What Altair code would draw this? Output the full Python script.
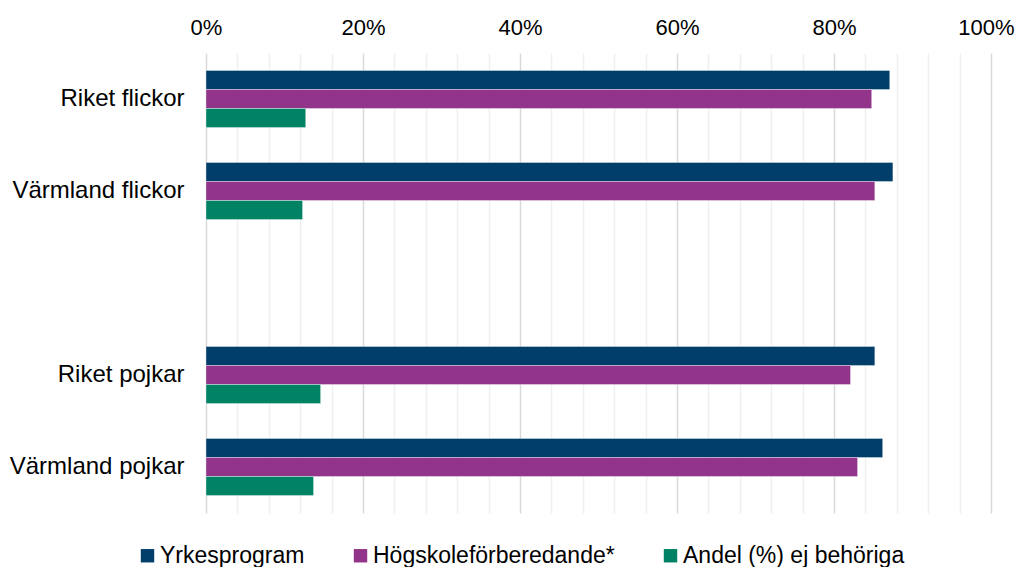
import altair as alt
import pandas as pd

categories = ["Riket flickor", "Värmland flickor", "Riket pojkar", "Värmland pojkar"]
axis_order = ["Riket flickor", "Värmland flickor", " ", "Riket pojkar", "Värmland pojkar"]
series = ["Yrkesprogram", "Högskoleförberedande*", "Andel (%) ej behöriga"]
yrkes = [87.1, 87.5, 85.2, 86.2]
hogskole = [84.8, 85.2, 82.1, 83.0]
andel = [12.7, 12.3, 14.6, 13.7]
colors = ["#013E6A", "#92348A", "#008364"]
x_ticks = list(range(0, 101, 4))

rows = []
for i, c in enumerate(categories):
    for s, vals in zip(series, [yrkes, hogskole, andel]):
        rows.append({"kategori": c, "serie": s, "varde": vals[i]})
df = pd.DataFrame(rows)

FONT = "Liberation Sans"

chart = alt.Chart(df).mark_bar(stroke="white", strokeWidth=0.6, strokeOpacity=0.6).encode(
    x=alt.X(
        "varde:Q",
        scale=alt.Scale(domain=[0, 100], nice=False),
        axis=alt.Axis(
            orient="top",
            title=None,
            values=x_ticks,
            labelExpr="datum.value % 20 == 0 ? datum.value + '%' : ''",
            domain=False,
            ticks=False,
            tickSize=0,
            labelPadding=14,
            labelFontSize=22,
            labelFont=FONT,
            labelColor="#000000",
            labelFlush=False,
            labelOverlap=False,
            labelOffset={"condition": {"test": "datum.value == 100", "value": -5}, "value": 0},
            gridColor={"condition": {"test": "datum.value % 20 == 0", "value": "#d9d9d9"}, "value": "#f0f0f0"},
            gridWidth=1.5,
        ),
    ),
    y=alt.Y(
        "kategori:N",
        scale=alt.Scale(domain=axis_order, paddingInner=0.38, paddingOuter=0.19),
        axis=alt.Axis(
            title=None,
            domain=False,
            ticks=False,
            tickSize=0,
            labelPadding=22,
            labelFontSize=24,
            labelFont=FONT,
            labelColor="#000000",
            grid=False,
        ),
    ),
    yOffset=alt.YOffset("serie:N", sort=series, scale=alt.Scale(domain=series, paddingInner=0, paddingOuter=0)),
    color=alt.Color(
        "serie:N",
        sort=series,
        scale=alt.Scale(domain=series, range=colors),
        legend=alt.Legend(
            title=None,
            orient="none",
            direction="horizontal",
            columns=3,
            legendX=-70,
            legendY=491,
            symbolType="square",
            symbolSize=180,
            symbolStrokeWidth=0,
            labelOffset=1,
            labelLimit=0,
            columnPadding=44,
            labelFontSize=23,
            labelFont=FONT,
            labelColor="#000000",
        ),
    ),
).properties(
    width=785,
    height=460,
    autosize=alt.AutoSizeParams(type="none"),
    padding={"left": 198, "top": 45, "right": 24, "bottom": 54},
).configure_view(stroke=None)

chart.save("out.html", embed_options={"renderer": "svg", "actions": False})
